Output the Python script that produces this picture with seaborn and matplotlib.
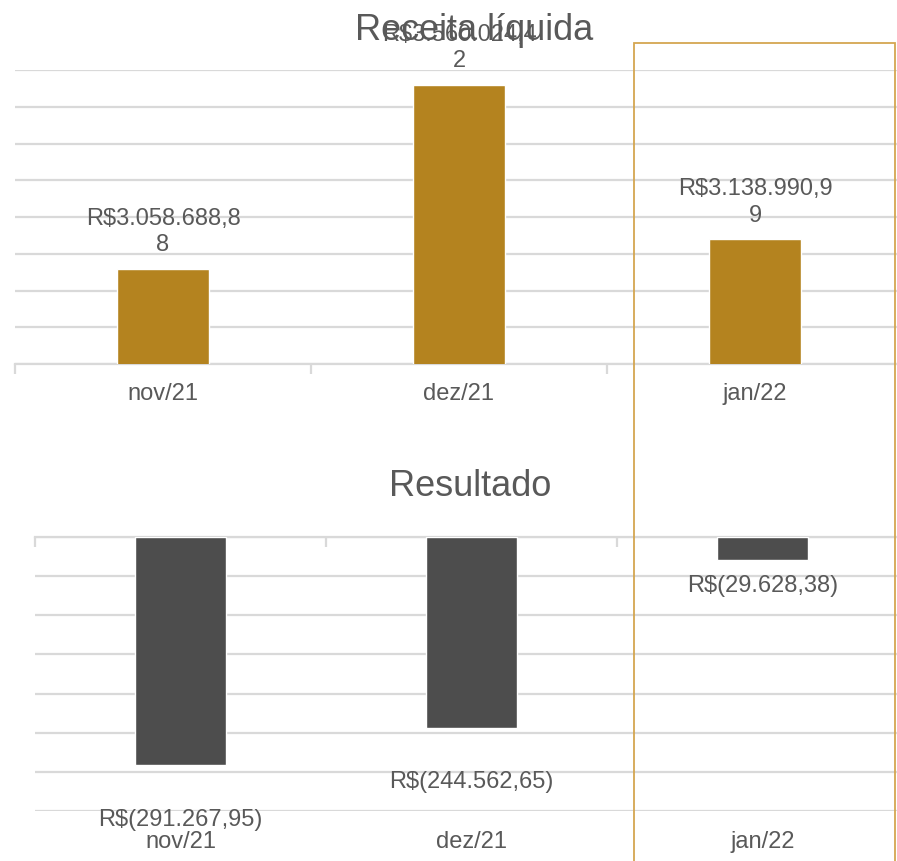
import matplotlib
matplotlib.use("Agg")
import matplotlib.pyplot as plt
from matplotlib.patches import Rectangle
import seaborn as sns
import pandas as pd

# Monthly figures
meses = ["nov/21", "dez/21", "jan/22"]
receita_liquida = [3058688.88, 3560024.42, 3138990.99]
resultado = [-291267.95, -244562.65, -29628.38]

GOLD = "#B4831F"
DARK = "#4D4D4D"
GRID = "#D9D9D9"
TEXT = "#595959"
FRAME = "#D4A650"

sns.set_theme(style="white")
plt.rcParams["font.family"] = ["Liberation Sans", "DejaVu Sans"]


def brl(v):
    s = f"{abs(v):,.2f}".replace(",", "X").replace(".", ",").replace("X", ".")
    return f"R$({s})" if v < 0 else f"R${s}"


def wrap(s, n=13):
    return s if len(s) <= n else s[:n] + "\n" + s[n:]


fig = plt.figure(figsize=(8.97, 8.62), dpi=100)

# ---- Receita líquida -------------------------------------------------------
ax1 = fig.add_axes([15 / 897, 1 - 365 / 862, 888 / 897, 294 / 862])
df1 = pd.DataFrame({"mes": meses, "valor": receita_liquida})
sns.barplot(data=df1, x="mes", y="valor", color=GOLD, width=0.31,
            saturation=1, ax=ax1, zorder=3)
ax1.set_ylim(2800000, 3600000)
ax1.set_yticks(range(2800000, 3600001, 100000))
ax1.yaxis.grid(True, color=GRID, lw=1.6)
ax1.set_axisbelow(True)
ax1.tick_params(axis="y", left=False, labelleft=False)
ax1.set_xlim(-0.5, 2.5)
ax1.set_xticks([-0.5, 0.5, 1.5, 2.5], minor=True)
ax1.tick_params(axis="x", which="minor", bottom=True, length=7, width=1.6,
                color=GRID, direction="out")
ax1.tick_params(axis="x", which="major", length=0, pad=13,
                labelsize=17, labelcolor=TEXT)
for side in ["top", "left", "right"]:
    ax1.spines[side].set_visible(False)
ax1.spines["bottom"].set_color(GRID)
ax1.spines["bottom"].set_linewidth(1.6)
ax1.set_xlabel("")
ax1.set_ylabel("")
for i, v in enumerate(receita_liquida):
    ax1.annotate(wrap(brl(v)), xy=(i, v), xytext=(0, 10),
                 textcoords="offset points", ha="center", va="bottom",
                 fontsize=17, color=TEXT, linespacing=1.25,
                 annotation_clip=False, zorder=5)

# ---- Resultado -------------------------------------------------------------
ax2 = fig.add_axes([35 / 897, 1 - 812 / 862, 873 / 897, 274 / 862])
df2 = pd.DataFrame({"mes": meses, "valor": resultado})
sns.barplot(data=df2, x="mes", y="valor", color=DARK, width=0.31,
            saturation=1, ax=ax2, zorder=3)
ax2.set_ylim(-350000, 0)
ax2.set_yticks(range(-350000, 1, 50000))
ax2.yaxis.grid(True, color=GRID, lw=1.6)
ax2.set_axisbelow(True)
ax2.tick_params(axis="y", left=False, labelleft=False)
ax2.set_xlim(-0.5, 2.5)
ax2.set_xticks([-0.5, 0.5, 1.5, 2.5], minor=True)
ax2.tick_params(axis="x", which="minor", bottom=False, top=True, length=7,
                width=1.6, color=GRID, direction="in")
ax2.tick_params(axis="x", which="major", length=0, pad=14,
                labelsize=17, labelcolor=TEXT)
for side in ["bottom", "left", "right"]:
    ax2.spines[side].set_visible(False)
ax2.spines["top"].set_color(GRID)
ax2.spines["top"].set_linewidth(1.6)
ax2.set_xlabel("")
ax2.set_ylabel("")
label_gap = [31, 30, 10]
for i, v in enumerate(resultado):
    ax2.annotate(brl(v), xy=(i, v), xytext=(0, -label_gap[i]),
                 textcoords="offset points", ha="center", va="top",
                 fontsize=17, color=TEXT, annotation_clip=False, zorder=5)

# ---- Titles and highlight frame -------------------------------------------
fig.text(474 / 897, 1 - 31 / 862, "Receita líquida", ha="center",
         va="center", fontsize=26, color=TEXT)
fig.text(470 / 897, 1 - 487 / 862, "Resultado", ha="center",
         va="center", fontsize=26, color=TEXT)
fig.patches.append(Rectangle((634 / 897, -0.01), (895 - 634) / 897,
                             1 - 44 / 862 + 0.01, transform=fig.transFigure,
                             fill=False, edgecolor=FRAME, lw=1.3, zorder=10))

fig.savefig("out.png", dpi=100)
